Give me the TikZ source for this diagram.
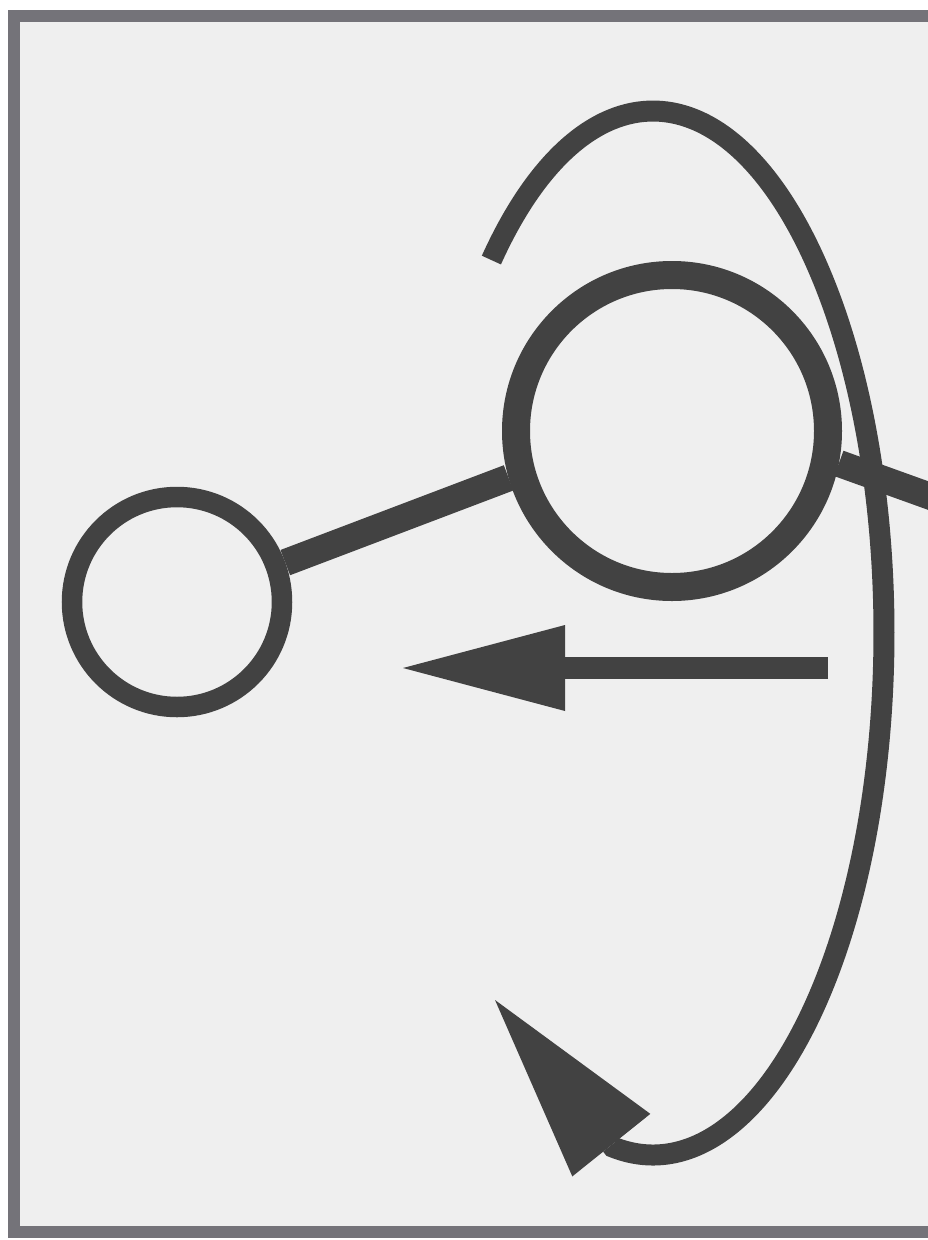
\documentclass[tikz,border=0pt]{standalone}
\usetikzlibrary{arrows.meta}
\definecolor{ink}{HTML}{424242}
\definecolor{framegray}{HTML}{747379}
\definecolor{paper}{HTML}{EFEFEF}
\begin{document}
\begin{tikzpicture}[x=1pt,y=-1pt,
  ring/.style={circle,draw=ink,inner sep=0pt,fill=paper},
  link/.style={draw=ink,line cap=butt}
]
\useasboundingbox (0,0) rectangle (928,1240);
\clip (0,0) rectangle (928,1240);
\fill[white] (0,0) rectangle (928,1240);
\draw[framegray,fill=paper,line width=12pt] (14,16) rectangle (1000,1232);
% nodes
\node[ring,minimum size=210pt,line width=20.5pt] (s) at (177,602) {};
\node[ring,minimum size=312pt,line width=28pt] (b) at (672,431) {};
\coordinate (r) at (960,507);
% connectors
\draw[link,line width=27pt] (s.20.5) -- (b.196);
\draw[link,line width=27pt] (b.-11) -- (r);
% horizontal arrow
\coordinate (hs) at (828,668);
\coordinate (ht) at (403,668);
\draw[link,line width=22pt,-{Triangle[length=162pt,width=86pt,line width=0pt]}] (hs) -- (ht);
% loop
\coordinate (lc) at (653,633);
\path (lc) ++(225.6:231 and 522) coordinate (ls);
\coordinate (tip) at (495,1000);
\draw[link,line width=21pt,-{Triangle[length=186pt,width=100pt,line width=0pt]}]
  (ls) arc[start angle=225.6,end angle=460,x radius=231,y radius=522] -- (tip);
\end{tikzpicture}
\end{document}
